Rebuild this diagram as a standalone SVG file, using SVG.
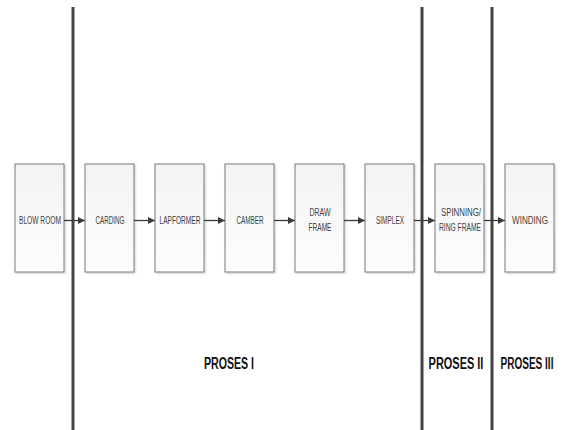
<svg xmlns="http://www.w3.org/2000/svg" width="562" height="430" viewBox="0 0 562 430">
<defs>
<linearGradient id="g" x1="0" y1="0" x2="0" y2="1">
<stop offset="0" stop-color="#f3f3f3"/>
<stop offset="1" stop-color="#fdfdfd"/>
</linearGradient>
<marker id="ah" viewBox="0 0 10 10" refX="10" refY="5" markerWidth="7" markerHeight="7" markerUnits="userSpaceOnUse" orient="auto">
<path d="M0,0 L10,5 L0,10 z" fill="#3a3a3a"/>
</marker>
<filter id="sh" x="-10%" y="-10%" width="130%" height="130%">
<feDropShadow dx="1" dy="1" stdDeviation="0.8" flood-color="#000" flood-opacity="0.2"/>
</filter>
</defs>
<style>
.box{fill:url(#g);stroke:#7a7a7a;stroke-width:1;filter:url(#sh)}
.lbl{font-family:"Liberation Sans",Arial,sans-serif;font-size:10px;fill:#404040;text-anchor:middle}
.div{stroke:#444;stroke-width:3}
.con{stroke:#3a3a3a;stroke-width:1.3;fill:none;marker-end:url(#ah)}
.ph{font-family:"Liberation Sans",Arial,sans-serif;font-size:17px;font-weight:bold;fill:#111;text-anchor:middle}
</style>
<rect width="562" height="430" fill="#fff"/>
<g id="dividers">
<line class="div" x1="73" y1="7" x2="73" y2="430"/>
<line class="div" x1="422" y1="7" x2="422" y2="430"/>
<line class="div" x1="492" y1="7" x2="492" y2="430"/>
</g>
<g id="blowroom"><rect class="box" x="15" y="164" width="49" height="108"/><text class="lbl" x="40" y="224" textLength="42" lengthAdjust="spacingAndGlyphs">BLOW ROOM</text></g>
<g id="carding"><rect class="box" x="85" y="164" width="49" height="108"/><text class="lbl" x="110" y="224" textLength="29" lengthAdjust="spacingAndGlyphs">CARDING</text></g>
<g id="lapformer"><rect class="box" x="155" y="164" width="49" height="108"/><text class="lbl" x="180" y="224" textLength="41" lengthAdjust="spacingAndGlyphs">LAPFORMER</text></g>
<g id="camber"><rect class="box" x="225" y="164" width="49" height="108"/><text class="lbl" x="250" y="224" textLength="27" lengthAdjust="spacingAndGlyphs">CAMBER</text></g>
<g id="drawframe"><rect class="box" x="295" y="164" width="49" height="108"/><text class="lbl" x="320" y="216" textLength="21" lengthAdjust="spacingAndGlyphs">DRAW</text><text class="lbl" x="320" y="231" textLength="23" lengthAdjust="spacingAndGlyphs">FRAME</text></g>
<g id="simplex"><rect class="box" x="365" y="164" width="49" height="108"/><text class="lbl" x="390" y="224" textLength="28" lengthAdjust="spacingAndGlyphs">SIMPLEX</text></g>
<g id="spinning"><rect class="box" x="435" y="164" width="49" height="108"/><text class="lbl" x="461" y="216" textLength="40" lengthAdjust="spacingAndGlyphs">SPINNING/</text><text class="lbl" x="460" y="231" textLength="42" lengthAdjust="spacingAndGlyphs">RING FRAME</text></g>
<g id="winding"><rect class="box" x="505" y="164" width="49" height="108"/><text class="lbl" x="530" y="224" textLength="36" lengthAdjust="spacingAndGlyphs">WINDING</text></g>
<g id="connectors">
<line class="con" x1="64" y1="220.5" x2="85" y2="220.5"/>
<line class="con" x1="134" y1="220.5" x2="155" y2="220.5"/>
<line class="con" x1="204" y1="220.5" x2="225" y2="220.5"/>
<line class="con" x1="274" y1="220.5" x2="295" y2="220.5"/>
<line class="con" x1="344" y1="220.5" x2="365" y2="220.5"/>
<line class="con" x1="414" y1="220.5" x2="435" y2="220.5"/>
<line class="con" x1="484" y1="220.5" x2="505" y2="220.5"/>
</g>
<g id="phases">
<text class="ph" transform="translate(229,369) scale(0.625,1)">PROSES I</text>
<text class="ph" transform="translate(456,369) scale(0.645,1)">PROSES II</text>
<text class="ph" transform="translate(527,369) scale(0.59,1)">PROSES III</text>
</g>
</svg>
